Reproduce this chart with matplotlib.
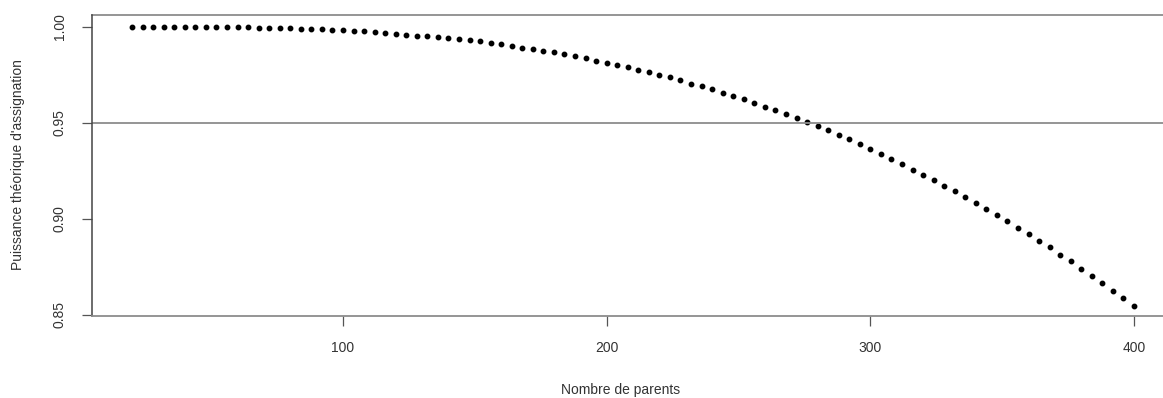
import matplotlib
matplotlib.use("Agg")
import matplotlib.pyplot as plt

plt.rcParams['font.family'] = ['Liberation Sans', 'DejaVu Sans']

# Number of parents (x) and theoretical assignment power (y)
n_parents = list(range(20, 401, 4))
power = [
    1.0000, 1.0000, 1.0000, 1.0000, 1.0000, 1.0000, 1.0000, 1.0000,
    0.9999, 0.9999, 0.9998, 0.9996, 0.9995, 0.9994, 0.9993, 0.9991,
    0.9990, 0.9988, 0.9986, 0.9984, 0.9982, 0.9980, 0.9977, 0.9974,
    0.9968, 0.9963, 0.9958, 0.9954, 0.9949, 0.9945, 0.9940, 0.9935,
    0.9930, 0.9924, 0.9915, 0.9908, 0.9902, 0.9891, 0.9884, 0.9875,
    0.9867, 0.9857, 0.9845, 0.9835, 0.9823, 0.9811, 0.9800, 0.9788,
    0.9776, 0.9764, 0.9750, 0.9737, 0.9720, 0.9704, 0.9691, 0.9675,
    0.9657, 0.9641, 0.9623, 0.9604, 0.9584, 0.9566, 0.9545, 0.9523,
    0.9505, 0.9484, 0.9460, 0.9438, 0.9414, 0.9389, 0.9364, 0.9336,
    0.9312, 0.9285, 0.9256, 0.9228, 0.9201, 0.9170, 0.9144, 0.9114,
    0.9082, 0.9052, 0.9019, 0.8986, 0.8953, 0.8919, 0.8884, 0.8850,
    0.8813, 0.8778, 0.8739, 0.8704, 0.8665, 0.8626, 0.8586, 0.8547,
]
x_ticks = [100, 200, 300, 400]
y_ticks = [0.85, 0.90, 0.95, 1.00]
y_tick_labels = ["0.85", "0.90", "0.95", "1.00"]
threshold = 0.95

W, H = 1163, 398
fig = plt.figure(figsize=(W / 100, H / 100), dpi=100)
ax = fig.add_axes([92 / W, (H - 316) / H, (W - 92) / W, (316 - 15) / H])

ax.plot(n_parents, power, linestyle="none", marker="o", markersize=3.2,
        color="black")
ax.axhline(threshold, color="#8c8c8c", linewidth=1.3)
ax.axhline(1.00609, color="#8c8c8c", linewidth=1.3, clip_on=False)

ax.set_xlim(4.8, 411.0)
ax.set_ylim(0.84932, 1.00609)

for side in ("top", "right"):
    ax.spines[side].set_visible(False)
ax.spines["left"].set_color("#444444")
ax.spines["bottom"].set_color("#8c8c8c")
ax.spines["left"].set_linewidth(1.1)
ax.spines["bottom"].set_linewidth(1.3)

ax.set_xticks(x_ticks)
ax.set_xticklabels([str(t) for t in x_ticks])
ax.set_yticks(y_ticks)
ax.set_yticklabels(y_tick_labels, rotation=90, va="center")
ax.tick_params(axis="both", length=7, width=0.9, color="#555555",
               labelsize=10, labelcolor="#333333", pad=11)

ax.set_xlabel("Nombre de parents", fontsize=10, color="#333333")
ax.xaxis.set_label_coords((621 - 92) / (W - 92), -(390 - 316) / (316 - 15),
                          transform=ax.transAxes)
ax.xaxis.label.set_va("center")
ax.set_ylabel("Puissance théorique d'assignation", fontsize=10,
              color="#333333")
ax.yaxis.set_label_coords(-(92 - 18) / (W - 92), (316 - 165) / (316 - 15),
                          transform=ax.transAxes)
ax.yaxis.label.set_va("center")

fig.savefig("out.png", dpi=100)
